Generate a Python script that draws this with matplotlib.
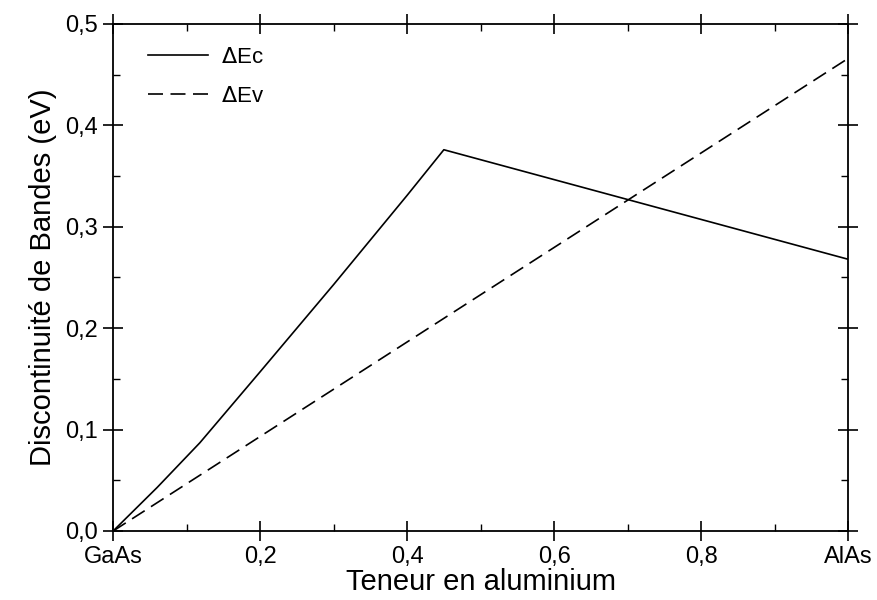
import numpy as np
import matplotlib.pyplot as plt
from matplotlib.ticker import MultipleLocator, FuncFormatter

plt.rcParams['font.family'] = ['Liberation Sans', 'DejaVu Sans']

# teneur en aluminium x et discontinuités (eV)
x_c = [0.0, 0.06, 0.118, 0.2, 0.3, 0.4, 0.45, 1.0]
dEc = [0.0, 0.043, 0.087, 0.157, 0.243, 0.331, 0.376, 0.268]
x_v = [0.0, 1.0]
dEv = [0.0, 0.466]

xticks = [0.0, 0.2, 0.4, 0.6, 0.8, 1.0]
xlabels = ['GaAs', '0,2', '0,4', '0,6', '0,8', 'AlAs']

fig = plt.figure(figsize=(8.77, 6.0), dpi=100)
ax = fig.add_axes([0.129, 0.115, 0.838, 0.845])

ax.plot(x_c, dEc, 'k-', lw=1.2, label=r'$\Delta$Ec')
ax.plot(x_v, dEv, 'k--', lw=1.2, dashes=(9, 4.5), label=r'$\Delta$Ev')

ax.set_xlim(0, 1)
ax.set_ylim(0, 0.5)
ax.set_xticks(xticks)
ax.set_xticklabels(xlabels)
ax.xaxis.set_minor_locator(MultipleLocator(0.1))
ax.yaxis.set_major_locator(MultipleLocator(0.1))
ax.yaxis.set_minor_locator(MultipleLocator(0.05))
ax.yaxis.set_major_formatter(FuncFormatter(lambda v, p: f'{v:.1f}'.replace('.', ',')))

ax.tick_params(which='major', direction='inout', length=14, width=1.2,
               labelsize=17, pad=4, top=True, right=True)
ax.tick_params(which='minor', direction='in', length=5, width=1, top=True, right=True)
for s in ax.spines.values():
    s.set_linewidth(1.3)

ax.set_xlabel('Teneur en aluminium', fontsize=21, labelpad=0)
ax.set_ylabel('Discontinuité de Bandes (eV)', fontsize=21, labelpad=6)

ax.legend(loc='upper left', bbox_to_anchor=(0.0475, 0.955), frameon=False,
          fontsize=16, handlelength=2.7, handletextpad=0.6, labelspacing=0.8,
          borderpad=0, borderaxespad=0)

fig.savefig('out.png', dpi=100)
